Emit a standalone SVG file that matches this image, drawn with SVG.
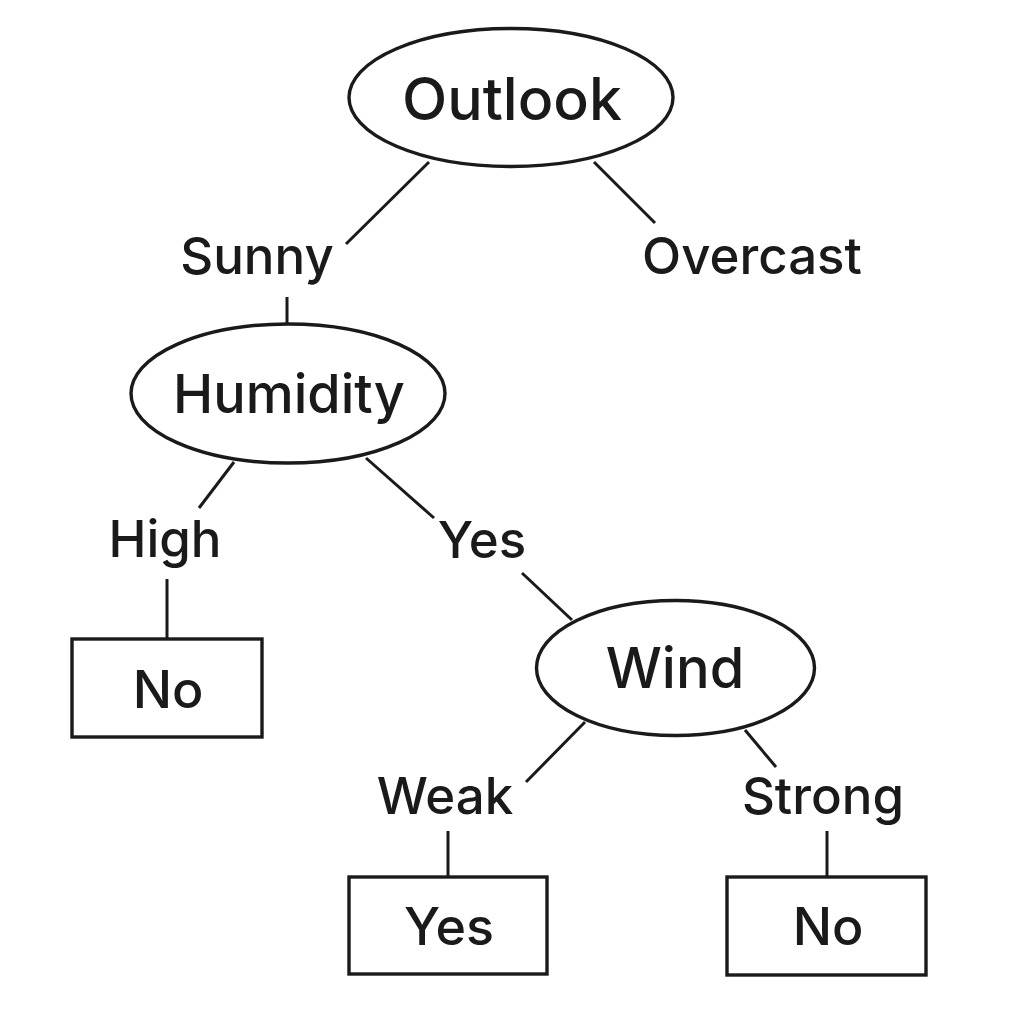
<svg xmlns="http://www.w3.org/2000/svg" width="1024" height="1024" viewBox="0 0 1024 1024">
  <style>
    .shape { fill: #ffffff; stroke: #1a1a1a; stroke-width: 3.4; }
    .edge { stroke: #1a1a1a; stroke-width: 3; fill: none; }
    .t { font-family: Inter, "Liberation Sans", sans-serif; font-weight: 500; fill: #1a1a1a; text-anchor: middle; }
    .big { font-size: 56px; }
    .lbl { font-size: 51px; }
    .leaf { font-size: 52px; }
  </style>
  <rect width="1024" height="1024" fill="#ffffff"/>
  <g id="connectors">
    <line class="edge" x1="429" y1="162" x2="346" y2="244"/>
    <line class="edge" x1="594" y1="162" x2="655" y2="223"/>
    <line class="edge" x1="287" y1="297" x2="287" y2="324"/>
    <line class="edge" x1="234" y1="462" x2="199" y2="508"/>
    <line class="edge" x1="366" y1="458" x2="434" y2="518"/>
    <line class="edge" x1="167" y1="579" x2="167" y2="639"/>
    <line class="edge" x1="522" y1="573" x2="572" y2="620"/>
    <line class="edge" x1="585" y1="722" x2="526" y2="782"/>
    <line class="edge" x1="745" y1="730" x2="776" y2="767"/>
    <line class="edge" x1="448" y1="831" x2="448" y2="877"/>
    <line class="edge" x1="827" y1="831" x2="827" y2="877"/>
    <text class="t lbl" x="257" y="274">Sunny</text>
    <text class="t lbl" x="752" y="274">Overcast</text>
    <text class="t lbl" x="165" y="557">High</text>
    <text class="t lbl" x="482" y="558">Yes</text>
    <text class="t lbl" x="445" y="814">Weak</text>
    <text class="t lbl" x="823" y="814">Strong</text>
  </g>
  <g id="outlook">
    <ellipse class="shape" cx="511" cy="97.5" rx="162" ry="69"/>
    <text class="t big" x="512" y="120" style="font-size:59px">Outlook</text>
  </g>
  <g id="humidity">
    <ellipse class="shape" cx="288" cy="393.5" rx="157" ry="69.5"/>
    <text class="t big" x="289" y="413" style="font-size:54px">Humidity</text>
  </g>
  <g id="wind">
    <ellipse class="shape" cx="675.5" cy="668" rx="139" ry="67.5"/>
    <text class="t big" x="675" y="688">Wind</text>
  </g>
  <g id="leaf-no-1">
    <rect class="shape" x="72" y="639" width="190" height="98"/>
    <text class="t leaf" x="168" y="708">No</text>
  </g>
  <g id="leaf-yes">
    <rect class="shape" x="349" y="877" width="198" height="97"/>
    <text class="t leaf" x="449" y="945">Yes</text>
  </g>
  <g id="leaf-no-2">
    <rect class="shape" x="727" y="877" width="199" height="98"/>
    <text class="t leaf" x="828" y="945">No</text>
  </g>
</svg>
